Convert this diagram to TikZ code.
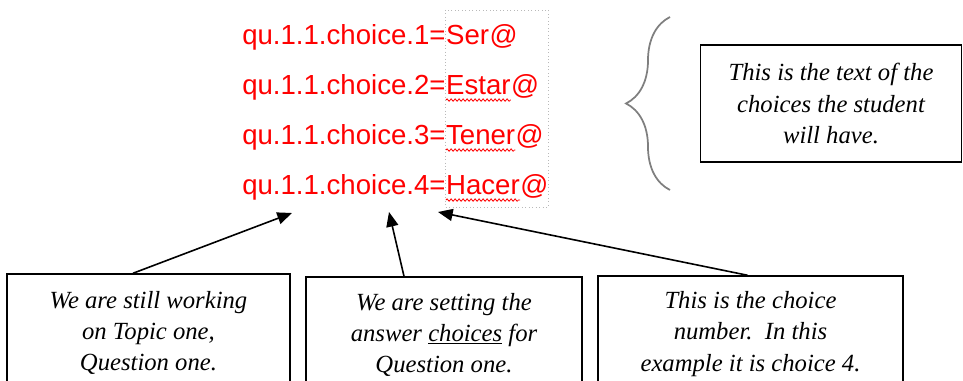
\documentclass[tikz,border=0pt]{standalone}
\usepackage{fontspec}
\setmainfont{Liberation Serif}
\newfontfamily\keyfont{Liberation Sans}
\usetikzlibrary{arrows.meta,positioning,calc,decorations.pathreplacing,decorations.pathmorphing}
\definecolor{keyred}{HTML}{FF0000}
\definecolor{bracegray}{HTML}{7F7F7F}

\begin{document}
\begin{tikzpicture}[x=0.75pt,y=0.75pt,
 key/.style={font=\keyfont\fontsize{20.7}{24}\selectfont,text=keyred,inner sep=0pt,anchor=base west},
 note/.style={draw=black,line width=1.1pt,align=center,font=\itshape\fontsize{18.5}{23.5}\selectfont,inner sep=0pt},
 arrow/.style={-{Triangle[length=11pt,width=9pt]},line width=1.2pt},
 squiggle/.style={draw=keyred,line width=0.6pt,decorate,decoration={snake,amplitude=0.9pt,segment length=3pt}}
]
\useasboundingbox (0,0) rectangle (963,381);
\clip (0,0) rectangle (963,381);

% the four choice lines
\draw[gray!55,dotted,line width=0.6pt] (445,371) rectangle (548,174);
\foreach \i/\w in {1/Ser,2/Estar,3/Tener,4/Hacer}{
 \node[key] (k\i) at (242,{386-50*\i}) {qu.1.1.choice.\i=};
 \node[key] (w\i) at (k\i.base east) {\w};
 \node[key] (at\i) at (w\i.base east) {@};
 \ifnum\i>1
  \draw[squiggle] ([yshift=-3.8pt]w\i.base west) -- ([yshift=-3.8pt]w\i.base east);
 \fi
}

% brace and its note
\draw[bracegray,line width=1.3pt,decorate,decoration={brace,amplitude=33pt}] (670,191) -- (670,364);
\node[note,minimum width=196pt,minimum height=88pt] (textnote) at (831,277.5) {This is the text of the\\choices the student\\will have.};

% notes below
\node[note,minimum width=212pt,minimum height=88.5pt] (topic) at (148.5,48) {We are still working\\on Topic one,\\Question one.};
\node[note,minimum width=207pt,minimum height=87pt] (answer) at (444,46) {We are setting the\\answer \underline{choices} for\\Question one.};
\node[note,minimum width=229pt,minimum height=87pt] (number) at (750.5,47) {This is the choice\\number.\ \ In this\\example it is choice 4.};

\coordinate (tip1) at (292,168);
\coordinate (tip2) at (389,169);
\coordinate (tip3) at (438,169);
\draw[arrow] ($(topic.north)+(-15.5,0)$) -- (tip1);
\draw[arrow] ($(answer.north)+(-40,0)$) -- (tip2);
\draw[arrow] ($(number.north)+(-3,0)$) -- (tip3);
\end{tikzpicture}
\end{document}
